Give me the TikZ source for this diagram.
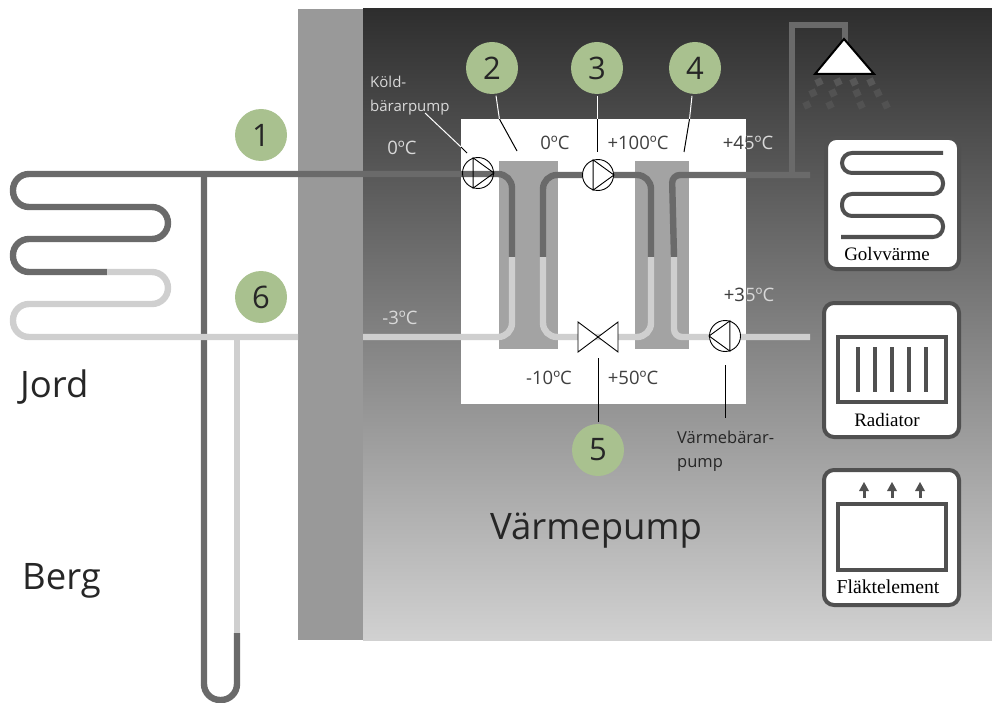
\documentclass[tikz,border=0pt]{standalone}
\usepackage{fontspec}
\setmainfont{Liberation Serif}
\newfontfamily\labelfont{Open Sans}
\usepackage{xcolor}
\definecolor{pipedarkgray}{RGB}{106,106,106}
\definecolor{pipelightgray}{RGB}{207,207,207}
\definecolor{wallgray}{RGB}{153,153,153}
\definecolor{exchangergray}{RGB}{163,163,163}
\definecolor{cardgray}{RGB}{80,80,80}
\definecolor{numbergreen}{RGB}{169,193,143}
\tikzset{
    pipedark/.style={
        draw=pipedarkgray,
        line width=6.4pt
    },
    pipelight/.style={
        draw=pipelightgray,
        line width=6.4pt
    },
    numbercircle/.style={
        circle,
        fill=numbergreen,
        minimum size=52pt,
        inner sep=0pt,
        outer sep=2pt,
        font=\labelfont\fontsize{31}{31}\selectfont
    },
    leader/.style={
        line width=1pt
    },
    pump/.style={
        circle,
        draw=black,
        line width=0.9pt,
        minimum size=31pt,
        inner sep=0pt
    },
    card/.style={
        draw=cardgray,
        fill=white,
        line width=4pt,
        rounded corners=10pt
    },
    cardline/.style={
        draw=cardgray,
        line width=4pt
    },
    cardlabel/.style={
        font=\fontsize{19}{19}\selectfont,
        text=black,
        inner sep=0pt
    },
    templabel/.style={
        font=\labelfont\fontsize{18.5}{18.5}\selectfont,
        inner sep=0pt
    },
    smalllabel/.style={
        font=\labelfont\fontsize{15}{15}\selectfont,
        text=white!85!black,
        inner sep=0pt,
        anchor=west
    },
    pumplabel/.style={
        font=\labelfont\fontsize{16.5}{16.5}\selectfont,
        text=black!85,
        inner sep=0pt,
        anchor=west
    },
    biglabel/.style={
        font=\labelfont\fontsize{36.5}{36.5}\selectfont,
        text=black!85,
        inner sep=0pt,
        anchor=west
    }
}

\begin{document}
\begin{tikzpicture}[x=1pt,y=-1pt]
\useasboundingbox (0,0) rectangle (992,703);

% ---------------------------------------------------------
% House
% ---------------------------------------------------------
\shade[top color=black!82,middle color=black!55,bottom color=black!18]
    (363,9) rectangle (992,640);
\fill[wallgray] (298,9) rectangle (363,640);
\fill[white] (461,119) rectangle (746,404);
\fill[exchangergray] (499,161) rectangle (558,349);
\fill[exchangergray] (635,161) rectangle (689,349);

% ---------------------------------------------------------
% Pipes in the ground
% ---------------------------------------------------------
\draw[pipedark,rounded corners=16pt]
    (204,174) -- (204,700) -- (237,700) -- (237,633);
\draw[pipelight] (237,633) -- (237,337);
\draw[pipedark,rounded corners=16pt]
    (107,272) -- (13,272) -- (13,239) -- (168,239) -- (168,207)
    -- (13,207) -- (13,174) -- (320,174);
\draw[pipelight,rounded corners=16pt]
    (107,272) -- (168,272) -- (168,304) -- (13,304) -- (13,337) -- (298,337);

% ---------------------------------------------------------
% Pipes in the heat pump
% ---------------------------------------------------------
\draw[pipedark,rounded corners=14pt]
    (320,174) -- (512,174) -- (512,257);
\draw[pipelight,rounded corners=14pt]
    (512,257) -- (512,337) -- (363,337);
\draw[pipedark,rounded corners=14pt]
    (543,257) -- (543,175) -- (651,175) -- (651,257);
\draw[pipelight,rounded corners=14pt]
    (543,257) -- (543,337) -- (651,337) -- (651,257);
\draw[pipedark,rounded corners=8pt]
    (674,257) -- (672,175) -- (810,175);
\draw[pipelight,rounded corners=8pt]
    (674,257) -- (674,337) -- (810,337);
\draw[pipedark,line cap=butt] (792,175) -- (792,25) -- (845,25) -- (845,42);

% ---------------------------------------------------------
% Shower
% ---------------------------------------------------------
\foreach \dropx/\dropy/\droptone in {
    819/82/66, 838/82/66, 854/82/66, 871/82/66,
    813/93/68, 833/93/68, 857/93/68, 878/93/68,
    807/105/68, 830/105/68, 861/105/68, 886/105/68
}
{
    \fill[black!\droptone,rotate around={25:(\dropx,\dropy)}]
        (\dropx-3.5,\dropy-3.5) rectangle (\dropx+3.5,\dropy+3.5);
}
\draw[draw=black,fill=white,line width=2pt] (844,39) -- (815,74) -- (874,74) -- cycle;

% ---------------------------------------------------------
% Pumps and expansion valve
% ---------------------------------------------------------
\node[pump] (coldpump) at (478,173) {};
\draw[line width=0.9pt] (coldpump.108) -- (coldpump.0) -- (coldpump.252) -- cycle;
\node[pump,fill=white] (compressor) at (598,175) {};
\draw[line width=0.9pt] (compressor.108) -- (compressor.0) -- (compressor.252) -- cycle;
\node[pump,fill=white] (heatpump) at (725,336) {};
\draw[line width=0.9pt] (heatpump.72) -- (heatpump.180) -- (heatpump.288) -- cycle;
\draw[draw=black,fill=white,line width=0.9pt]
    (598,337) -- (578,322) -- (578,352) -- cycle;
\draw[draw=black,fill=white,line width=0.9pt]
    (598,337) -- (618,322) -- (618,352) -- cycle;

% ---------------------------------------------------------
% Numbered circles and their lines
% ---------------------------------------------------------
\foreach \num/\x/\y in {1/261/135, 2/492/68, 3/597/68, 4/695/68, 5/598/450, 6/261/297}
{
    \node[numbercircle,text=black!85] (num\num) at (\x,\y) {\num};
}
\coordinate (edgetwo) at (499.4,119);
\coordinate (endtwo) at (517,151);
\coordinate (edgethree) at (597,119);
\coordinate (endthree) at (597,152);
\coordinate (edgefour) at (689.5,119);
\coordinate (endfour) at (684,152);
\coordinate (endfive) at (598,358);
\draw[leader,white] (num2) -- (edgetwo);
\draw[leader,black] (edgetwo) -- (endtwo);
\draw[leader,white] (num3) -- (edgethree);
\draw[leader,black] (edgethree) -- (endthree);
\draw[leader,white] (num4) -- (edgefour);
\draw[leader,black] (edgefour) -- (endfour);
\draw[leader,black] (num5) -- (endfive);

\coordinate (coldtext) at (425,113);
\coordinate (coldedge) at (461,147);
\coordinate (coldend) at (467,153);
\draw[leader,white] (coldtext) -- (coldedge);
\draw[leader,black] (coldedge) -- (coldend);
\coordinate (heattop) at (725,365);
\coordinate (heatbottom) at (725,418);
\draw[leader,black] (heattop) -- (heatbottom);

% ---------------------------------------------------------
% Temperatures and small texts
% ---------------------------------------------------------
\foreach \name/\x/\y/\txt in {
    zero/402/148/0ºC,
    minusthree/400/318/-3ºC
}
{
    \node[templabel,text=white!85!black] (\name) at (\x,\y) {\txt};
}
\foreach \name/\x/\y/\txt in {
    zeroin/555/143/0ºC,
    hundred/638/143/+100ºC,
    minusten/549/378/-10ºC,
    fifty/633/378/+50ºC
}
{
    \node[templabel,text=black!75] (\name) at (\x,\y) {\txt};
}
\foreach \name/\x/\y/\txt in {
    fortyfive/748/143/+45ºC,
    thirtyfive/749/295/+35ºC
}
{
    \node[templabel,text=white!85!black] (\name) at (\x,\y) {\txt};
    \begin{scope}
        \clip (461,119) rectangle (746,404);
        \node[templabel,text=black!75] at (\x,\y) {\txt};
    \end{scope}
}
\node[smalllabel] (coldone) at (370,82) {Köld-};
\node[smalllabel] (coldtwo) at (370,108) {bärarpump};
\node[pumplabel] (warmone) at (677,437) {Värmebärar-};
\node[pumplabel] (warmtwo) at (677,465) {pump};

\node[biglabel] (jord) at (20,387) {Jord};
\node[biglabel] (berg) at (22,581) {Berg};
\node[biglabel] (varmepump) at (490,531) {Värmepump};

% ---------------------------------------------------------
% Heat emitters
% ---------------------------------------------------------
\path[card] (826,138) rectangle (959,269);
\draw[cardline,rounded corners=10pt]
    (943,153) -- (842,153) -- (842,173) -- (943,173) -- (943,194)
    -- (842,194) -- (842,216) -- (943,216) -- (943,237) -- (841,237);
\node[cardlabel] (golv) at (887,254) {Golvvärme};

\path[card] (824,303) rectangle (959,437);
\draw[cardline] (838,337) rectangle (946,402);
\foreach \x in {858,875,892,909,926}
{
    \draw[cardline] (\x,347) -- (\x,392);
}
\node[cardlabel] (radiator) at (887,420) {Radiator};

\path[card] (824,470) rectangle (959,605);
\draw[cardline] (838,504) rectangle (946,570);
\foreach \x in {864,892,920}
{
    \draw[cardline,line width=3pt] (\x,498) -- (\x,490);
    \fill[cardgray] (\x-5,491) -- (\x,482) -- (\x+5,491) -- cycle;
}
\node[cardlabel,font=\fontsize{19.7}{19.7}\selectfont] (flakt) at (888,587) {Fläktelement};

\end{tikzpicture}
\end{document}
